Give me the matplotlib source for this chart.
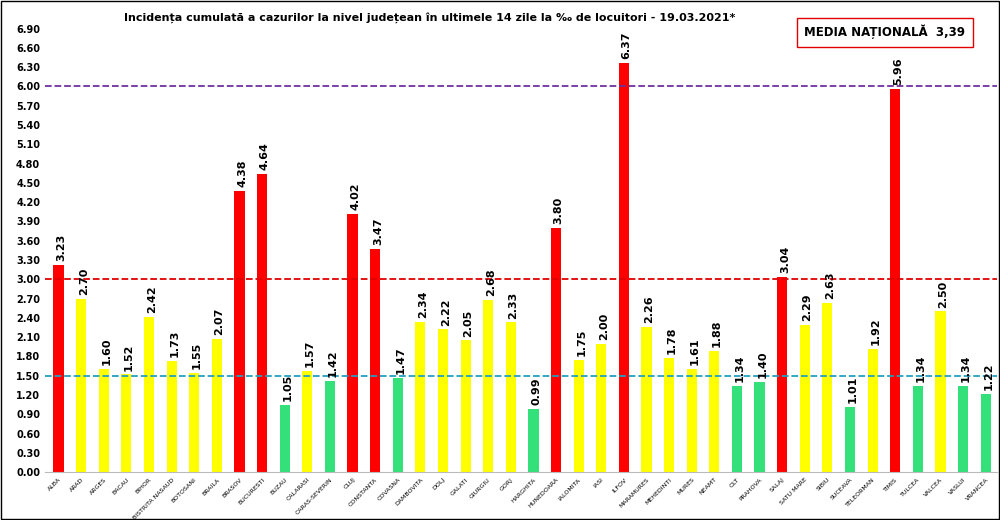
import matplotlib.pyplot as plt
import numpy as np

judete = ['ALBA', 'ARAD', 'ARGES', 'BACAU', 'BIHOR', 'BISTRITA NASAUD', 'BOTOSANI', 'BRAILA',
          'BRASOV', 'BUCURESTI', 'BUZAU', 'CALARASI', 'CARAS-SEVERIN', 'CLUJ', 'CONSTANTA',
          'COVASNA', 'DAMBOVITA', 'DOLJ', 'GALATI', 'GIURGIU', 'GORJ', 'HARGHITA', 'HUNEDOARA',
          'IALOMITA', 'IASI', 'ILFOV', 'MARAMURES', 'MEHEDINTI', 'MURES', 'NEAMT', 'OLT',
          'PRAHOVA', 'SALAJ', 'SATU MARE', 'SIBIU', 'SUCEAVA', 'TELEORMAN', 'TIMIS', 'TULCEA',
          'VALCEA', 'VASLUI', 'VRANCEA']
incidenta = [3.23, 2.70, 1.60, 1.52, 2.42, 1.73, 1.55, 2.07, 4.38, 4.64, 1.05, 1.57, 1.42,
             4.02, 3.47, 1.47, 2.34, 2.22, 2.05, 2.68, 2.33, 0.99, 3.80, 1.75, 2.00, 6.37,
             2.26, 1.78, 1.61, 1.88, 1.34, 1.40, 3.04, 2.29, 2.63, 1.01, 1.92, 5.96, 1.34,
             2.50, 1.34, 1.22]

def culoare(v):
    if v >= 3:
        return '#ff0000'
    if v >= 1.5:
        return '#ffff00'
    return '#33e07a'

fig = plt.figure(figsize=(10, 5.2), dpi=100)
ax = fig.add_axes([0.045, 0.092, 0.952, 0.853])
x = np.arange(len(judete))
ax.bar(x, incidenta, width=0.45, color=[culoare(v) for v in incidenta])
for xi, v in zip(x, incidenta):
    ax.text(xi + 0.12, v + 0.06, f'{v:.2f}', rotation=90, ha='center', va='bottom',
            fontsize=8, fontweight='bold')

ax.axhline(6.0, color='#7030a0', ls='--', lw=1.3)
ax.axhline(3.0, color='#e00000', ls='--', lw=1.3)
ax.axhline(1.5, color='#20a0c0', ls='--', lw=1.3)

ax.set_ylim(0, 6.9)
ax.set_xlim(-0.6, len(judete) - 0.5)
ax.set_yticks(np.arange(0, 6.91, 0.3))
ax.set_yticklabels([f'{t:.2f}' for t in np.arange(0, 6.91, 0.3)], fontsize=7, fontweight='bold')
ax.set_xticks(x)
ax.set_xticklabels(judete, rotation=45, ha='right', fontsize=4.5, rotation_mode='anchor')
ax.tick_params(length=0)
for s in ['top', 'right', 'left']:
    ax.spines[s].set_visible(False)
ax.spines['bottom'].set_color('#bbbbbb')

fig.text(0.43, 0.967, 'Incidența cumulată a cazurilor la nivel județean în ultimele 14 zile la ‰ de locuitori - 19.03.2021*',
         ha='center', va='center', fontsize=8, fontweight='bold')
fig.text(0.885, 0.938, 'MEDIA NAȚIONALĂ  3,39', ha='center', va='center', fontsize=8.5,
         fontweight='bold', bbox=dict(boxstyle='square,pad=0.6', fc='white', ec='#e00000', lw=1))
fig.patches.append(plt.Rectangle((0.001, 0.001), 0.998, 0.998, transform=fig.transFigure,
                                 fill=False, ec='black', lw=1))
fig.savefig('out.png', dpi=100)
